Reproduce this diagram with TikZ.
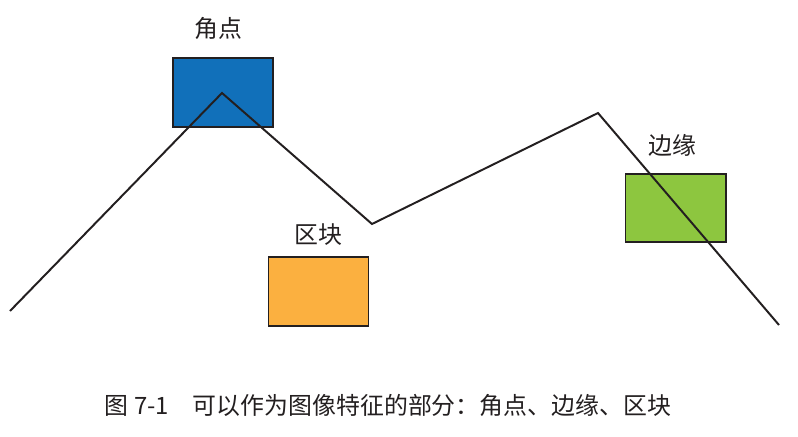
\documentclass[tikz,border=0pt]{standalone}
\usepackage{fontspec}
\setmainfont{Liberation Serif}
\newfontfamily\cjk{Noto Sans CJK SC}
\definecolor{cornerblue}{HTML}{1170BA}
\definecolor{edgegreen}{HTML}{8DC63F}
\definecolor{bloborange}{HTML}{FBB040}
\definecolor{outline}{HTML}{231F20}
\begin{document}
\begin{tikzpicture}[
    x=0.025cm, y=-0.025cm,
    patch/.style={draw=outline, line width=1.4pt, minimum width=2.5cm, minimum height=1.72cm, inner sep=0pt},
    tag/.style={font=\cjk\fontsize{17}{20}\selectfont, text=outline},
    curve/.style={line width=1.4pt, outline, line join=miter}
]
    \useasboundingbox (0,0) rectangle (798,436);

    % Feature patches
    \node[patch, fill=cornerblue] (corner) at (223,92.5) {};
    \node[patch, fill=bloborange] (blob) at (318.5,291.5) {};
    \node[patch, fill=edgegreen] (edge) at (675.5,208) {};

    % Labels above the patches
    \node[tag] (cornerlabel) at (218,28) {角点};
    \node[tag] (bloblabel) at (318,235) {区块};
    \node[tag] (edgelabel) at (672,145) {边缘};

    % Polyline
    \coordinate (p0) at (10,311);
    \coordinate (p1) at (222,93);
    \coordinate (p2) at (372,224);
    \coordinate (p3) at (598,113);
    \coordinate (p4) at (779,325);
    \draw[curve] (p0) -- (p1) -- (p2) -- (p3) -- (p4);

    % Caption
    \node[font=\cjk\fontsize{17}{20}\selectfont, text=outline] (caption) at (388,405) {图 7-1\quad 可以作为图像特征的部分：角点、边缘、区块};
\end{tikzpicture}
\end{document}
